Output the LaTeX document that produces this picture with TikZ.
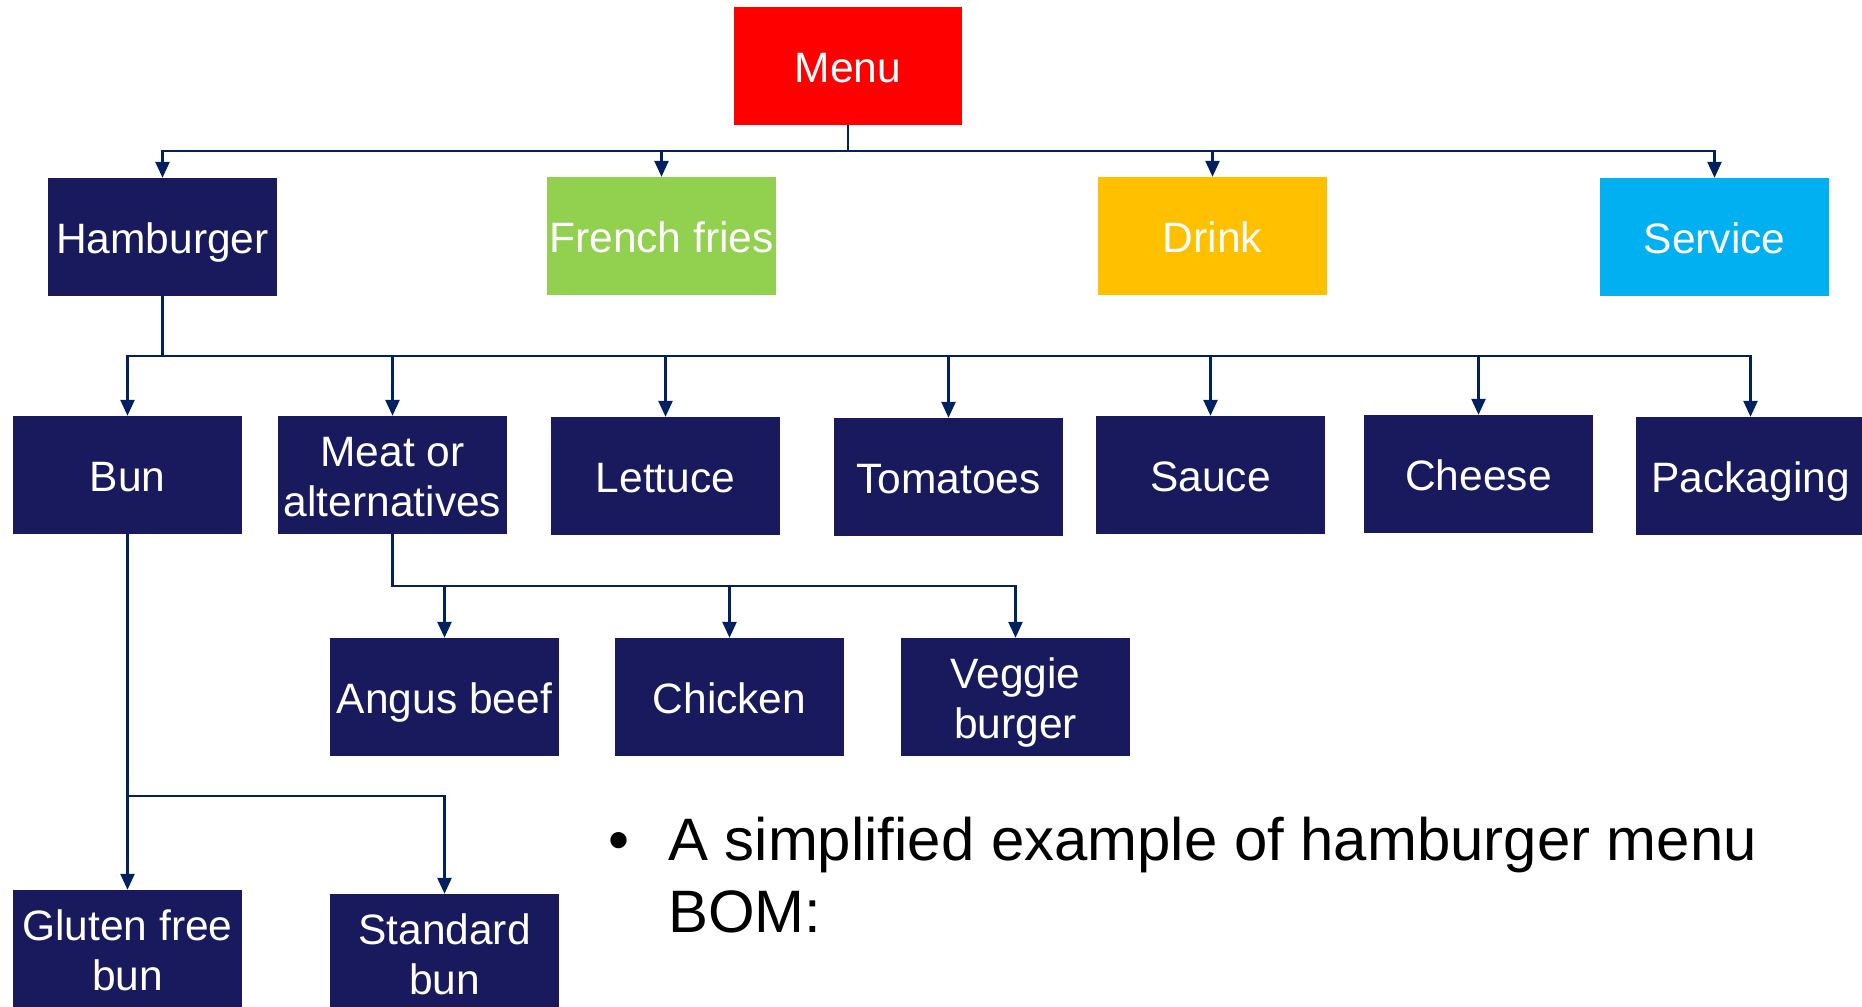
\documentclass[tikz,border=0pt]{standalone}
\usepackage{fontspec}
\setmainfont{Liberation Sans}
\usetikzlibrary{arrows.meta}
\definecolor{navybox}{RGB}{25,25,94}
\definecolor{linecol}{RGB}{0,32,96}
\definecolor{menured}{RGB}{255,0,0}
\definecolor{friesgreen}{RGB}{146,208,80}
\definecolor{drinkyellow}{RGB}{255,192,0}
\definecolor{serviceblue}{RGB}{0,176,240}
\newcommand\twoline[2]{\vbox{\baselineskip=50pt\lineskiplimit=-100pt\lineskip=0pt
  \halign{\hfil##\hfil\cr\rule{0pt}{38.25pt}#1\cr#2\cr}}}
\begin{document}
\begin{tikzpicture}[x=1pt,y=-1pt,
  box/.style={rectangle, fill=navybox, text=white, inner sep=0pt,
    minimum width=229pt, minimum height=118pt, text depth=4.9pt,
    font=\fontsize{42.5}{50}\selectfont},
  sbox/.style={box, text height=38.25pt},
  conn/.style={draw=linecol, line width=2.5pt},
  arr/.style={conn, -{Triangle[length=16pt,width=14pt]}},
  bullettext/.style={anchor=base west, inner sep=0pt, text=black,
    font=\fontsize{59.9}{72}\selectfont}]
\clip (0,0) rectangle (1862,1006);
\fill[white] (0,0) rectangle (1862,1006);

% level 0
\node[sbox, fill=menured, minimum width=228pt] (menu) at (848,66) {Menu};
% level 1
\node[sbox] (ham) at (162.5,237) {Hamburger};
\node[sbox, fill=friesgreen] (fries) at (661.5,236) {French fries};
\node[sbox, fill=drinkyellow] (drink) at (1212.5,236) {Drink};
\node[sbox, fill=serviceblue] (service) at (1714.5,237) {Service};
% level 2
\node[sbox] (bun) at (127.5,475) {Bun};
\node[box] (meat) at (392.5,475) {\twoline{Meat or}{alternatives}};
\node[sbox] (lettuce) at (665.5,476) {Lettuce};
\node[sbox] (tomatoes) at (948.5,477) {Tomatoes};
\node[sbox] (sauce) at (1210.5,475) {Sauce};
\node[sbox] (cheese) at (1478.5,474) {Cheese};
\node[sbox] (packaging) at (1750.5,476) {Packaging};
% level 3
\node[sbox] (angus) at (444.5,697) {Angus beef};
\node[sbox] (chicken) at (729.5,697) {Chicken};
\node[box] (veggie) at (1015.5,697) {\twoline{Veggie}{burger}};
\node[box] (gluten) at (127.5,949) {\twoline{Gluten free}{bun}};
\node[box] (standard) at (444.5,953) {\twoline{Standard}{bun}};

% bus coordinates
\coordinate (mb) at (848,151);
\coordinate (hb) at (162.5,356);
\coordinate (mtb) at (392.5,586);
\coordinate (bnb) at (127.5,796);

% connectors
\foreach \c in {ham,fries,drink,service}
  \draw[arr] (menu.south) -- (mb) -| (\c.north);
\foreach \c in {bun,meat,lettuce,tomatoes,sauce,cheese,packaging}
  \draw[arr] (ham.south) -- (hb) -| (\c.north);
\foreach \c in {angus,chicken,veggie}
  \draw[arr] (meat.south) -- (mtb) -| (\c.north);
\foreach \c in {gluten,standard}
  \draw[arr] (bun.south) -- (bnb) -| (\c.north);

% bullet text
\node[bullettext] (bul) at (608,860) {\textbullet};
\node[bullettext] (txt1) at (668,860) {A simplified example of hamburger menu};
\node[bullettext] (txt2) at (668,932) {BOM:};
\end{tikzpicture}
\end{document}
